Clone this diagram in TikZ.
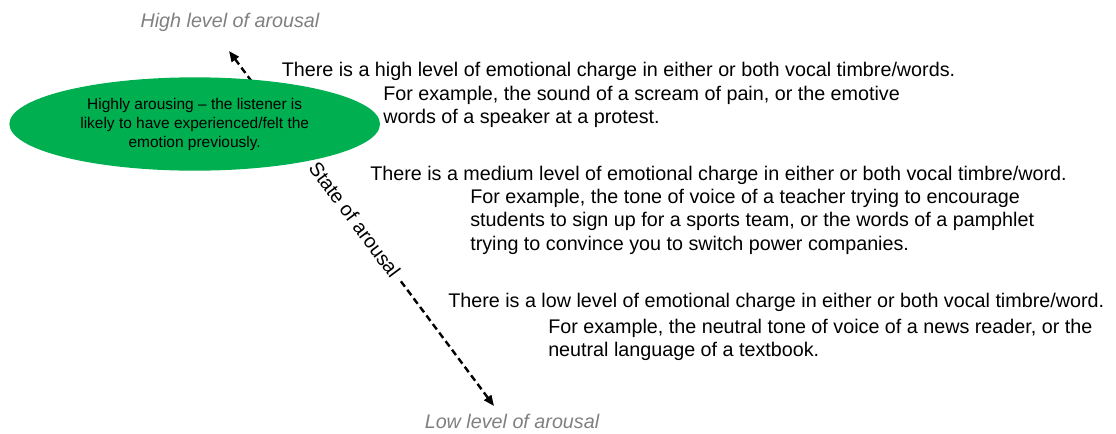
\documentclass[tikz,border=0pt]{standalone}
\usepackage{fontspec}
\setmainfont{Liberation Sans}
\usetikzlibrary{arrows.meta,positioning,shapes.geometric}
\definecolor{arousalGreen}{RGB}{0,176,80}
\definecolor{axisGray}{RGB}{128,128,128}
% first line of a note sits on the node's base
\newcommand{\notelines}[1]{\begin{tabular}[t]{@{}l@{}}#1\end{tabular}}

\begin{document}
\begin{tikzpicture}[x=0.75pt, y=-0.75pt, >={Triangle[length=8pt, width=6.5pt]},
    every node/.style={inner sep=0pt, font=\fontsize{14.8}{17.6}\selectfont},
    levelline/.style={anchor=base west},
    examplenote/.style={anchor=base west},
    axislabel/.style={axisGray, anchor=base, font=\fontsize{14.8}{17.6}\selectfont\itshape}]
  \useasboundingbox (0,0) rectangle (1116,433);
  % axis of arousal
  \node[axislabel] (high) at (230,27) {High level of arousal};
  \node[axislabel] (low) at (512,428) {Low level of arousal};
  \coordinate (hightip) at (229,51);
  \coordinate (lowtip) at (494,406);
  \draw[<->, line width=1.8pt, dash pattern=on 5pt off 3pt] (hightip) --
    node[sloped, pos=0.475, fill=white, inner sep=3pt] (state) {State of arousal} (lowtip);
  % highly arousing
  \node[ellipse, fill=arousalGreen, minimum width=278pt, minimum height=70pt, align=center,
    font=\fontsize{11.6}{14.25}\selectfont] (arousing) at (194.7,124)
    {Highly arousing -- the listener is\\likely to have experienced/felt the\\emotion previously.};
  % high level
  \node[levelline] (highcharge) at (281.5,76) {There is a high level of emotional charge in either or both vocal timbre/words.};
  \node[examplenote] (highexample) at (383,100) {\notelines{For example, the sound of a scream of pain, or the emotive\\words of a speaker at a protest.}};
  % medium level
  \node[levelline] (medcharge) at (370,180) {There is a medium level of emotional charge in either or both vocal timbre/word.};
  \node[examplenote] (medexample) at (470,203.5) {\notelines{For example, the tone of voice of a teacher trying to encourage\\students to sign up for a sports team, or the words of a pamphlet\\trying to convince you to switch power companies.}};
  % low level
  \node[levelline] (lowcharge) at (448,307) {There is a low level of emotional charge in either or both vocal timbre/word.};
  \node[examplenote] (lowexample) at (548,333) {\notelines{For example, the neutral tone of voice of a news reader, or the\\neutral language of a textbook.}};
\end{tikzpicture}
\end{document}
